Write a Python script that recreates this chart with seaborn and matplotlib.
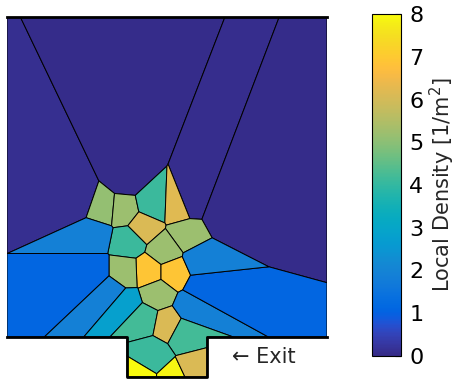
import numpy as np
import matplotlib
matplotlib.use("Agg")
import matplotlib.pyplot as plt
import seaborn as sns
from matplotlib.colors import LinearSegmentedColormap, Normalize
from matplotlib.collections import PolyCollection
from matplotlib.cm import ScalarMappable

# ---------------- data: pedestrian positions [m] and local density [1/m^2]
ped_names = ["D_TL", "D_TC", "D_W", "D_R", "G1", "G2", "T1", "Tan1", "Tan2", "G3",
             "T2", "G4", "Y1", "Y2", "G5", "G6", "LB1", "B1", "LB2", "C1",
             "T3", "Tan3", "LB3", "B2", "LB4", "T4", "T5", "Y3", "Y4", "Tan4"]
ped_x = [1.80, 3.00, 4.55, 5.40, 2.375, 2.925, 3.625, 4.30, 3.40, 4.50,
         3.025, 3.95, 3.55, 4.15, 2.925, 3.75, 2.175, 2.175, 2.60, 2.95,
         3.40, 4.025, 4.625, 4.90, 4.825, 4.40, 3.625, 3.25, 4.225, 4.65]
ped_y = [3.40, 3.975, 3.375, 3.05, 3.20, 3.15, 3.30, 3.275, 2.775, 2.55,
         2.40, 2.15, 1.625, 1.625, 1.60, 1.10, 2.575, 1.60, 1.15, 0.85,
         0.425, 0.30, 0.725, 1.225, 1.925, 0.10, -0.425, -1.05, -1.075, -0.875]
density = [0.10, 0.05, 0.08, 0.05, 5.1, 5.2, 4.1, 6.2, 6.1, 5.2,
           4.1, 5.2, 6.9, 6.9, 5.2, 5.2, 1.9, 1.1, 1.9, 2.8,
           4.2, 6.1, 1.9, 1.1, 1.9, 4.2, 4.1, 8.0, 7.9, 6.1]

# geometry [m]
room_x = [0.0, 8.0]
room_y = [0.0, 8.0]
exit_x = [3.0, 5.0]
exit_bottom = -1.0
cbar_ticks = [0, 1, 2, 3, 4, 5, 6, 7, 8]
vmin, vmax = 0, 8

# MATLAB parula colormap
parula = [
    [0.2081, 0.1663, 0.5292], [0.2116, 0.1898, 0.5777], [0.2123, 0.2138, 0.6270],
    [0.2081, 0.2386, 0.6771], [0.1959, 0.2645, 0.7279], [0.1707, 0.2919, 0.7792],
    [0.1253, 0.3242, 0.8303], [0.0591, 0.3598, 0.8683], [0.0117, 0.3875, 0.8820],
    [0.0060, 0.4086, 0.8828], [0.0165, 0.4266, 0.8786], [0.0329, 0.4430, 0.8720],
    [0.0498, 0.4586, 0.8641], [0.0629, 0.4737, 0.8554], [0.0723, 0.4887, 0.8467],
    [0.0779, 0.5040, 0.8384], [0.0793, 0.5200, 0.8312], [0.0749, 0.5375, 0.8263],
    [0.0641, 0.5570, 0.8240], [0.0488, 0.5772, 0.8228], [0.0343, 0.5966, 0.8199],
    [0.0265, 0.6137, 0.8135], [0.0239, 0.6287, 0.8038], [0.0231, 0.6418, 0.7913],
    [0.0228, 0.6535, 0.7768], [0.0267, 0.6642, 0.7607], [0.0384, 0.6743, 0.7436],
    [0.0590, 0.6838, 0.7254], [0.0843, 0.6928, 0.7062], [0.1133, 0.7015, 0.6859],
    [0.1453, 0.7098, 0.6646], [0.1801, 0.7177, 0.6424], [0.2178, 0.7250, 0.6193],
    [0.2586, 0.7317, 0.5954], [0.3022, 0.7376, 0.5712], [0.3482, 0.7424, 0.5473],
    [0.3953, 0.7459, 0.5244], [0.4420, 0.7481, 0.5033], [0.4871, 0.7491, 0.4840],
    [0.5300, 0.7491, 0.4661], [0.5709, 0.7485, 0.4494], [0.6099, 0.7473, 0.4337],
    [0.6473, 0.7456, 0.4188], [0.6834, 0.7435, 0.4044], [0.7184, 0.7411, 0.3905],
    [0.7525, 0.7384, 0.3768], [0.7858, 0.7356, 0.3633], [0.8185, 0.7327, 0.3498],
    [0.8507, 0.7299, 0.3360], [0.8824, 0.7274, 0.3217], [0.9139, 0.7258, 0.3063],
    [0.9450, 0.7261, 0.2886], [0.9739, 0.7314, 0.2666], [0.9938, 0.7455, 0.2403],
    [0.9990, 0.7653, 0.2164], [0.9955, 0.7861, 0.1967], [0.9880, 0.8066, 0.1794],
    [0.9789, 0.8271, 0.1633], [0.9697, 0.8481, 0.1475], [0.9626, 0.8705, 0.1309],
    [0.9589, 0.8949, 0.1132], [0.9598, 0.9218, 0.0948], [0.9661, 0.9514, 0.0755],
    [0.9763, 0.9831, 0.0538]]
cmap = LinearSegmentedColormap.from_list("parula", parula, N=256)

sns.set_theme(style="white")
plt.rcParams["font.family"] = ["DejaVu Sans"]

# ---------------- Voronoi cells clipped to the geometry
x0, x1 = room_x
y0, y1 = room_y
ex0, ex1 = exit_x
domain = [(x0, y0), (ex0, y0), (ex0, exit_bottom), (ex1, exit_bottom),
          (ex1, y0), (x1, y0), (x1, y1), (x0, y1)]


def clip_halfplane(poly, a, b, c):
    """keep part of polygon with a*x + b*y <= c"""
    out = []
    n = len(poly)
    for k in range(n):
        p = poly[k]
        q = poly[(k + 1) % n]
        fp = a * p[0] + b * p[1] - c
        fq = a * q[0] + b * q[1] - c
        if fp <= 0:
            out.append(p)
        if (fp < 0 < fq) or (fq < 0 < fp):
            t = fp / (fp - fq)
            out.append((p[0] + t * (q[0] - p[0]), p[1] + t * (q[1] - p[1])))
    return out


pts = np.column_stack([ped_x, ped_y])
cells = []
for i, pi in enumerate(pts):
    poly = list(domain)
    for j, pj in enumerate(pts):
        if i == j:
            continue
        a, b = 2 * (pj - pi)
        c = pj @ pj - pi @ pi
        poly = clip_halfplane(poly, a, b, c)
        if not poly:
            break
    cells.append(poly)

fig = plt.figure(figsize=(4.61, 3.84), dpi=100)
ax = fig.add_axes([7 / 461, 7 / 384, 320 / 461, 360 / 384])
norm = Normalize(vmin=vmin, vmax=vmax)
pc = PolyCollection(cells, array=np.array(density), cmap=cmap, norm=norm,
                    edgecolors="black", linewidths=0.7)
ax.add_collection(pc)

# walls
wall_kw = dict(color="black", lw=2.0, solid_capstyle="projecting", clip_on=False)
ax.plot([x0, x1], [y1, y1], **wall_kw)
ax.plot([x0, ex0, ex0, ex1, ex1, x1], [y0, y0, exit_bottom, exit_bottom, y0, y0], **wall_kw)

ax.text(ex1 + 0.62, (y0 + exit_bottom) / 2, "\u2190 Exit", fontsize=15,
        ha="left", va="center")

ax.set_xlim(x0, x1)
ax.set_ylim(exit_bottom, y1)
ax.set_aspect("equal")
ax.axis("off")

cax = fig.add_axes([372 / 461, 28 / 384, 29 / 461, 342 / 384])
sm = ScalarMappable(norm=norm, cmap=cmap)
cb = fig.colorbar(sm, cax=cax, ticks=cbar_ticks)
cb.outline.set_linewidth(0.8)
cb.outline.set_edgecolor("black")
cax.tick_params(labelsize=16, direction="in", length=4, width=0.8,
                colors="black", pad=6)
cb.set_label("Local Density [1/m$^2$]", fontsize=15, labelpad=3)

fig.savefig("out.png", dpi=100)
